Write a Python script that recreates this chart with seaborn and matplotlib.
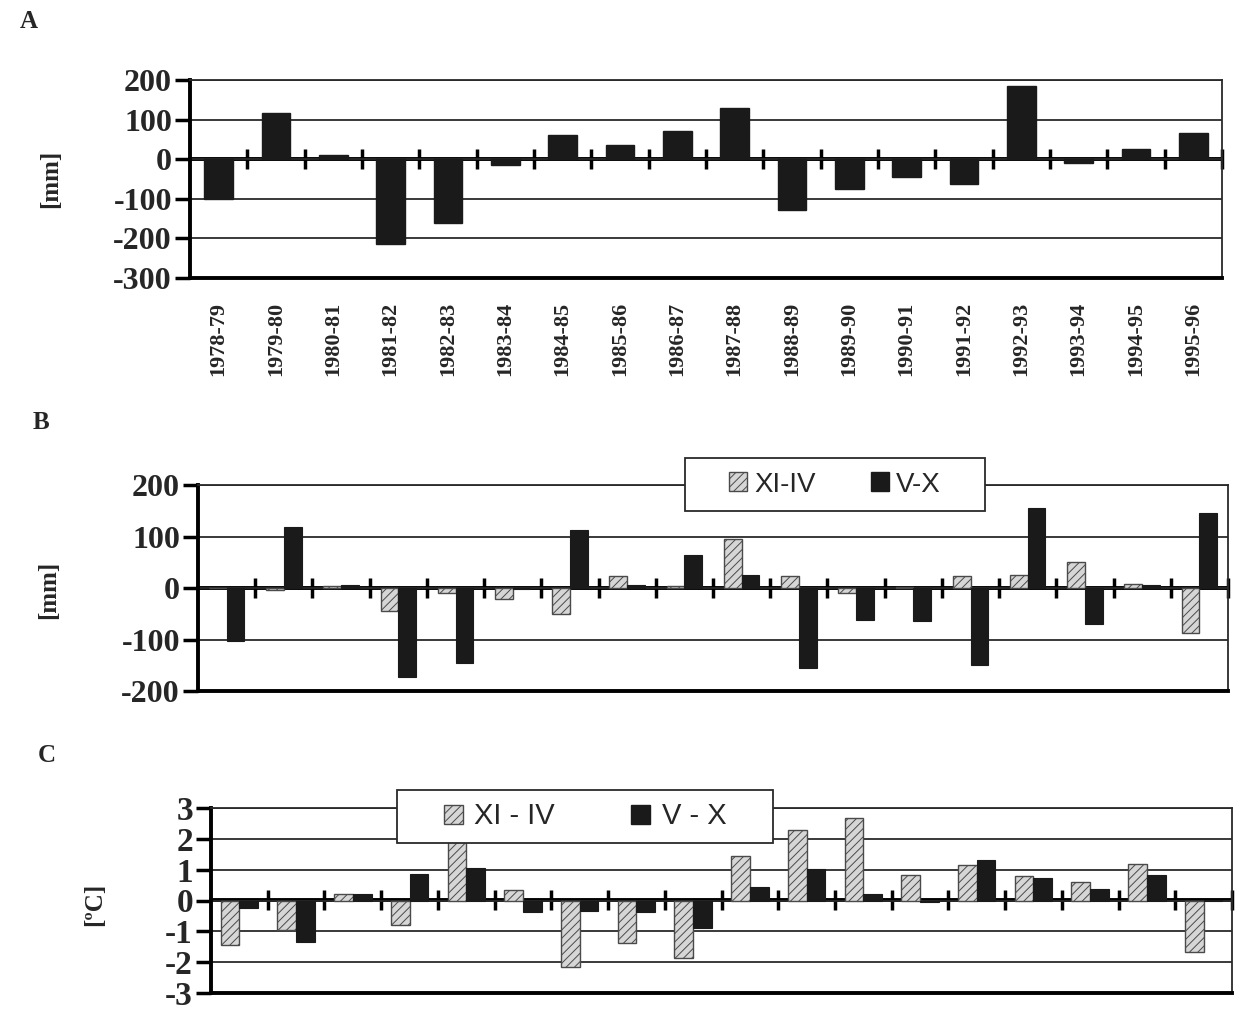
import numpy as np
import pandas as pd
import matplotlib
matplotlib.use("Agg")
import matplotlib.pyplot as plt
import matplotlib.patches as mpatches
import seaborn as sns

# ---- data ----
seasons = ['1978-79', '1979-80', '1980-81', '1981-82', '1982-83', '1983-84',
           '1984-85', '1985-86', '1986-87', '1987-88', '1988-89', '1989-90',
           '1990-91', '1991-92', '1992-93', '1993-94', '1994-95', '1995-96']

# A: annual precipitation anomaly [mm]
precip_year = [-100, 117, 10, -215, -160, -15, 62, 35, 72, 130, -128, -75,
               -45, -63, 185, -10, 25, 66]

# B: seasonal precipitation anomaly [mm]
precip_winter = [0, -4, 4, -45, -10, -22, -50, 23, 3, 95, 23, -10, 2, 24,
                 26, 50, 8, -87]
precip_summer = [-103, 118, 6, -172, -146, -2, 112, 5, 64, 26, -155, -62,
                 -65, -150, 156, -70, 5, 146]

# C: seasonal temperature anomaly [ºC]
temp_winter = [-1.43, -0.97, 0.2, -0.8, 2.3, 0.34, -2.16, -1.37, -1.87,
               1.45, 2.29, 2.67, 0.83, 1.14, 0.78, 0.59, 1.2, -1.68]
temp_summer = [-0.24, -1.34, 0.2, 0.87, 1.06, -0.37, -0.33, -0.37, -0.89,
               0.45, 1.02, 0.22, -0.05, 1.31, 0.72, 0.37, 0.84, 0.03]

LIGHT = '#d6d6d6'
DARK = '#1a1a1a'
HATCH_EDGE = '#4a4a4a'

sns.set_theme(style='white')
plt.rcParams['font.family'] = ['Liberation Serif', 'DejaVu Serif']
plt.rcParams['axes.unicode_minus'] = False
plt.rcParams['hatch.linewidth'] = 0.7

fig = plt.figure(figsize=(12.4, 10.1), dpi=100)
W, H = 1240, 1010


def px_axes(left, top, right, bottom):
    return fig.add_axes([left / W, 1 - bottom / H, (right - left) / W, (bottom - top) / H])


def style_axes(ax, ylim, yticks, ylabel, label_xy, tick_size):
    ax.set_ylim(*ylim)
    ax.set_xlim(-0.5, len(seasons) - 0.5)
    ax.set_yticks(yticks)
    ax.set_axisbelow(True)
    ax.yaxis.grid(True, color='#2a2a2a', linewidth=1.3)
    ax.xaxis.grid(False)
    for side in ['top', 'right']:
        ax.spines[side].set_linewidth(1.3)
        ax.spines[side].set_color('#2a2a2a')
    for side in ['left', 'bottom']:
        ax.spines[side].set_linewidth(2.8)
        ax.spines[side].set_color('black')
    ax.tick_params(axis='y', direction='out', length=11, width=2.5, color='black',
                   labelsize=tick_size, pad=2, left=True)
    for lab in ax.get_yticklabels():
        lab.set_fontweight('bold')
    ax.tick_params(axis='x', length=0)
    ax.set_xlabel('')
    ax.set_ylabel(ylabel, fontsize=18, fontweight='bold')
    ax.yaxis.set_label_coords(*label_xy)
    # zero line with season-boundary ticks
    zero = (0 - ylim[0]) / (ylim[1] - ylim[0])
    sec = ax.secondary_xaxis(zero)
    sec.set_xticks(np.arange(0.5, len(seasons), 1))
    sec.tick_params(direction='inout', length=15, width=2.5, color='black',
                    labeltop=False, labelbottom=False)
    for s in sec.spines.values():
        s.set_linewidth(2.8)
        s.set_color('black')


def hatch_light(ax):
    for p in ax.patches:
        fc = p.get_facecolor()
        if fc[0] > 0.5:
            p.set_hatch('////')
            p.set_edgecolor(HATCH_EDGE)
            p.set_linewidth(1.0)


def box_legend(labels, box, fontsize, handletextpad, columnspacing):
    left, top, right, bottom = box
    rect = mpatches.Rectangle((left / W, 1 - bottom / H), (right - left) / W, (bottom - top) / H,
                              transform=fig.transFigure, facecolor='white',
                              edgecolor='#2a2a2a', linewidth=1.3, zorder=4)
    fig.patches.append(rect)
    handles = [mpatches.Patch(facecolor=LIGHT, edgecolor=HATCH_EDGE, hatch='////', linewidth=1.0),
               mpatches.Patch(facecolor=DARK, edgecolor=DARK)]
    leg = fig.legend(handles, labels, ncol=2, loc='center',
                     bbox_to_anchor=((left + right) / 2 / W, 1 - (top + bottom) / 2 / H),
                     frameon=False, handlelength=0.65, handleheight=0.65,
                     handletextpad=handletextpad, columnspacing=columnspacing,
                     prop={'family': 'Liberation Sans', 'size': fontsize})
    leg.set_zorder(5)


# ---- A ----
axA = px_axes(190, 80, 1222, 278)
sns.barplot(x=seasons, y=precip_year, color=DARK, saturation=1, width=0.5,
            errorbar=None, ax=axA, edgecolor=DARK)
style_axes(axA, (-300, 200), np.arange(-300, 201, 100), '[mm]', (-0.124, 0.5), 23)
axA.tick_params(axis='x', labelsize=16, rotation=90, pad=17)
for lab in axA.get_xticklabels():
    lab.set_fontweight('bold')

# ---- B ----
dfB = pd.DataFrame({
    'season': seasons * 2,
    'value': precip_winter + precip_summer,
    'period': ['XI-IV'] * len(seasons) + ['V-X'] * len(seasons),
})
axB = px_axes(198, 485, 1228, 691)
sns.barplot(data=dfB, x='season', y='value', hue='period', hue_order=['XI-IV', 'V-X'],
            palette={'XI-IV': LIGHT, 'V-X': DARK}, saturation=1, width=0.62,
            errorbar=None, legend=False, ax=axB, edgecolor=DARK, linewidth=0.8)
hatch_light(axB)
style_axes(axB, (-200, 200), np.arange(-200, 201, 100), '[mm]', (-0.134, 0.49), 23)
axB.set_xticklabels([])
box_legend(['XI-IV', 'V-X'], (685, 458, 985, 511), 20, 0.25, 2.0)

# ---- C ----
dfC = pd.DataFrame({
    'season': seasons * 2,
    'value': temp_winter + temp_summer,
    'period': ['XI - IV'] * len(seasons) + ['V - X'] * len(seasons),
})
axC = px_axes(211, 808, 1232, 993)
sns.barplot(data=dfC, x='season', y='value', hue='period', hue_order=['XI - IV', 'V - X'],
            palette={'XI - IV': LIGHT, 'V - X': DARK}, saturation=1, width=0.66,
            errorbar=None, legend=False, ax=axC, edgecolor=DARK, linewidth=0.8)
hatch_light(axC)
style_axes(axC, (-3, 3), np.arange(-3, 4, 1), '[ºC]', (-0.103, 0.48), 24)
axC.set_xticklabels([])
box_legend(['XI - IV', 'V - X'], (397, 790, 773, 843), 21, 0.4, 2.6)

# panel letters
for letter, (x, y) in zip(['A', 'B', 'C'], [(20, 22), (33, 423), (38, 755)]):
    fig.text(x / W, 1 - y / H, letter, fontsize=18, fontweight='bold', va='center', ha='left')

fig.savefig('out.png', dpi=100)
